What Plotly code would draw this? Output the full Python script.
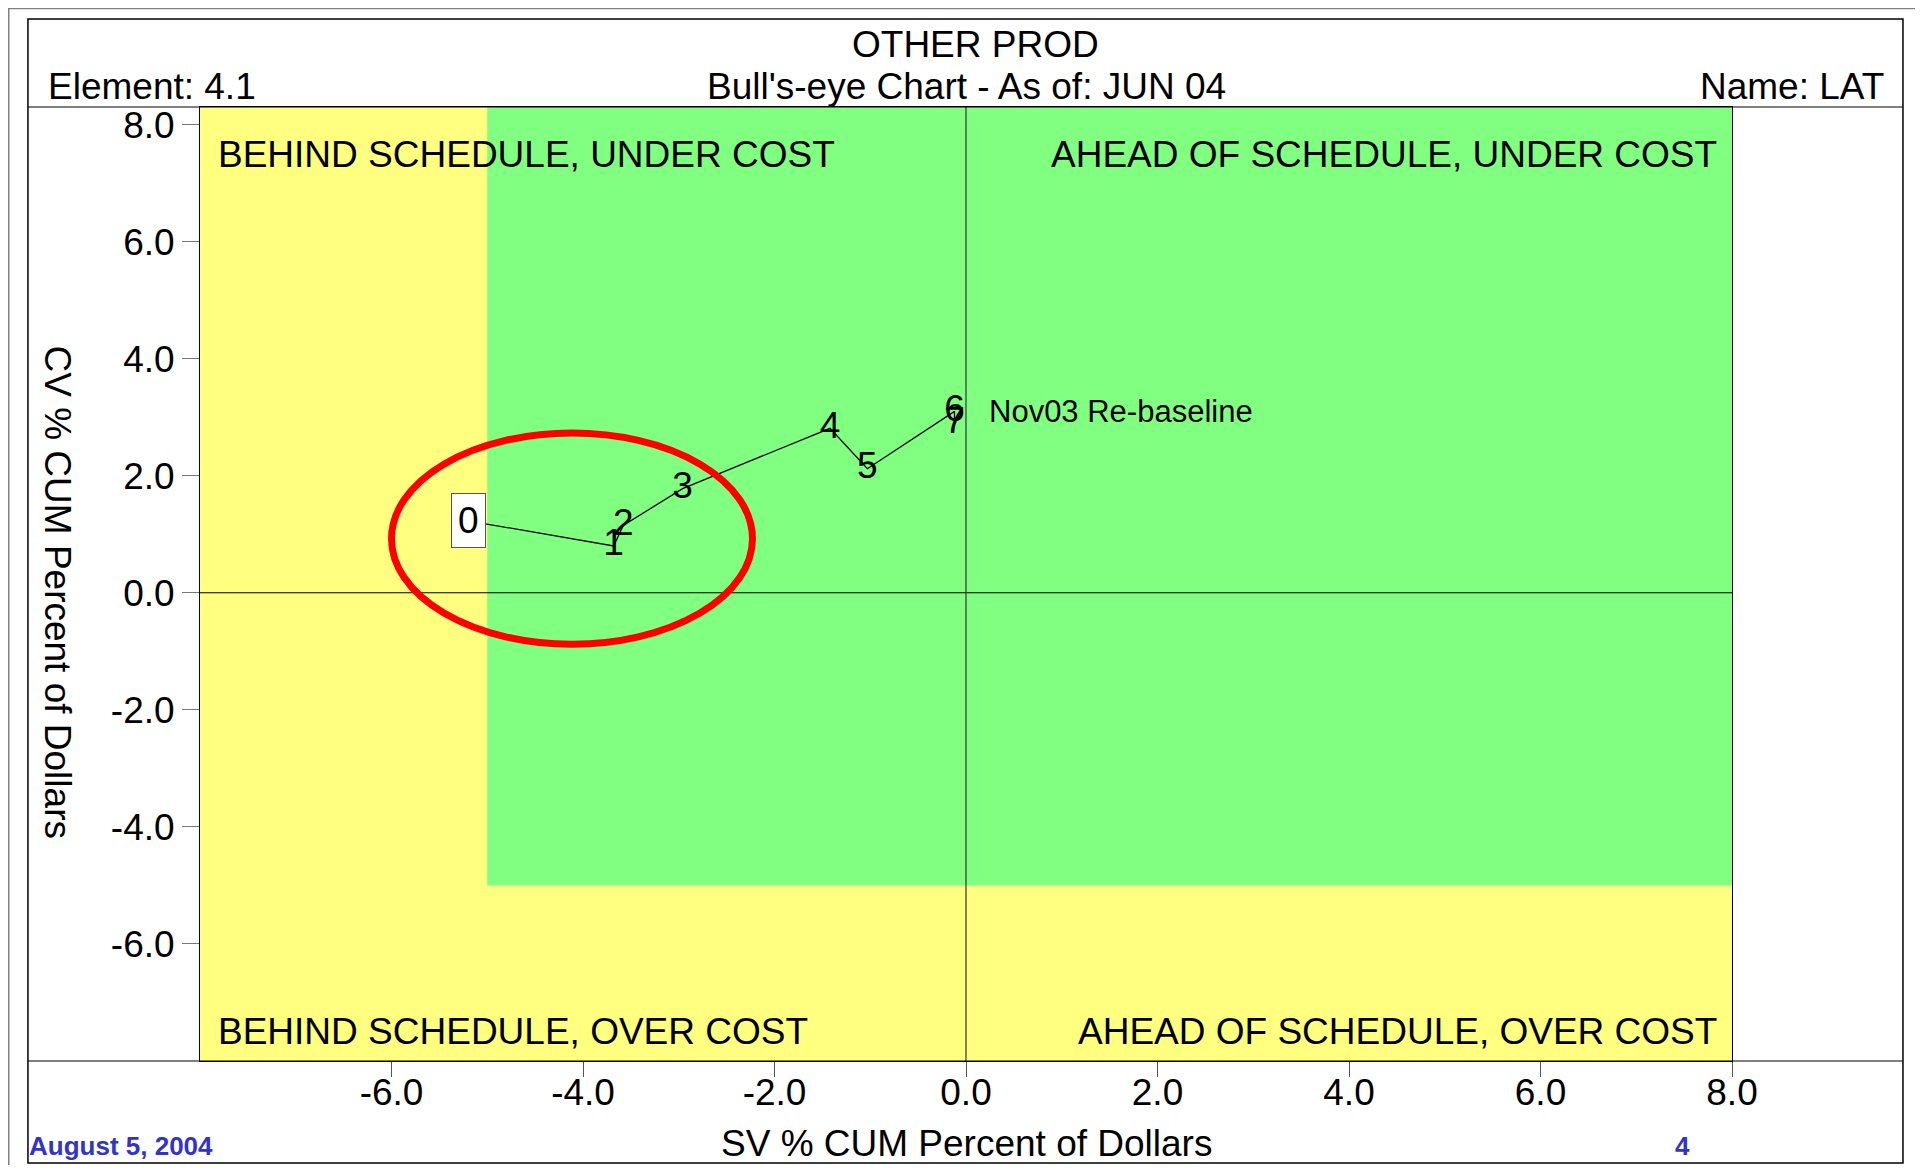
import plotly.graph_objects as go

# ---- data ----
point_labels = ["0", "1", "2", "3", "4", "5", "6", "7"]
sv_pct = [-5.20, -3.68, -3.58, -2.96, -1.42, -1.03, -0.12, -0.12]
cv_pct = [1.23, 0.80, 1.15, 1.78, 2.81, 2.12, 3.10, 2.88]
tick_vals = [-6.0, -4.0, -2.0, 0.0, 2.0, 4.0, 6.0, 8.0]
tick_text = ["-6.0", "-4.0", "-2.0", "0.0", "2.0", "4.0", "6.0", "8.0"]
quadrant_labels = ["BEHIND SCHEDULE, UNDER COST", "AHEAD OF SCHEDULE, UNDER COST",
                   "BEHIND SCHEDULE, OVER COST", "AHEAD OF SCHEDULE, OVER COST"]
rebaseline_note = "Nov03 Re-baseline"

FONT = "Liberation Sans, Arial, sans-serif"
YELLOW = "#FFFF80"
GREEN = "#80FF80"
BLUE = "#3333CC"
FS = 37

XR = [-8, 8]
YR = [-8, 8.3]

fig = go.Figure()

fig.add_trace(go.Scatter(
    x=sv_pct, y=cv_pct,
    mode="lines+text",
    text=[""] + point_labels[1:],
    textposition="middle center",
    textfont=dict(family=FONT, size=FS, color="black"),
    line=dict(color="black", width=1.3),
    hoverinfo="skip",
    showlegend=False,
))

shapes = [
    dict(type="rect", xref="x", yref="y", x0=XR[0], x1=XR[1], y0=YR[0], y1=YR[1],
         fillcolor=YELLOW, line=dict(width=0), layer="below"),
    dict(type="rect", xref="x", yref="y", x0=-5, x1=XR[1], y0=-5, y1=YR[1],
         fillcolor=GREEN, line=dict(width=0), layer="below"),
    dict(type="line", xref="x", yref="y", x0=XR[0], x1=XR[1], y0=0, y1=0,
         line=dict(color="black", width=1), layer="below"),
    dict(type="line", xref="x", yref="y", x0=0, x1=0, y0=YR[0], y1=YR[1],
         line=dict(color="#333333", width=1.2), layer="below"),
    # red ellipse
    dict(type="circle", xref="x", yref="y", x0=-6.0, x1=-2.23, y0=-0.88, y1=2.73,
         line=dict(color="#FF0000", width=7), layer="above"),
    # inner black frame
    dict(type="rect", xref="paper", yref="paper", x0=-0.1123, x1=1.1116, y0=-0.107, y1=1.0922,
         line=dict(color="black", width=1.5), fillcolor="rgba(0,0,0,0)", layer="above"),
    # header line and bottom line
    dict(type="line", xref="paper", yref="paper", x0=-0.1123, x1=1.1116, y0=1.0, y1=1.0,
         line=dict(color="black", width=1.2)),
    dict(type="line", xref="paper", yref="paper", x0=-0.1123, x1=1.1116, y0=0.0, y1=0.0,
         line=dict(color="black", width=1.2)),
    # outer gray page frame
    dict(type="line", xref="paper", yref="paper", x0=-0.1250, x1=-0.1250, y0=-0.12, y1=1.104,
         line=dict(color="#808080", width=2)),
    dict(type="line", xref="paper", yref="paper", x0=-0.1250, x1=1.12, y0=1.1035, y1=1.1035,
         line=dict(color="#808080", width=2)),
]

annotations = [
    # point 0 boxed label
    dict(x=sv_pct[0], y=cv_pct[0], xref="x", yref="y", text=point_labels[0], showarrow=False,
         font=dict(family=FONT, size=FS, color="black"), bgcolor="white",
         bordercolor="#555555", borderwidth=1, borderpad=6),
    dict(x=0.22, y=cv_pct[6], xref="x", yref="y", text=rebaseline_note, showarrow=False,
         xanchor="left", yanchor="middle", font=dict(family=FONT, size=31, color="black")),
    # quadrant labels
    dict(x=-7.83, y=7.49, xref="x", yref="y", text=quadrant_labels[0], showarrow=False,
         xanchor="left", yanchor="middle", font=dict(family=FONT, size=FS, color="black")),
    dict(x=7.86, y=7.49, xref="x", yref="y", text=quadrant_labels[1], showarrow=False,
         xanchor="right", yanchor="middle", font=dict(family=FONT, size=FS, color="black")),
    dict(x=-7.83, y=-7.50, xref="x", yref="y", text=quadrant_labels[2], showarrow=False,
         xanchor="left", yanchor="middle", font=dict(family=FONT, size=FS, color="black")),
    dict(x=7.86, y=-7.50, xref="x", yref="y", text=quadrant_labels[3], showarrow=False,
         xanchor="right", yanchor="middle", font=dict(family=FONT, size=FS, color="black")),
    # header texts
    dict(x=0.5065, y=1.066, xref="paper", yref="paper", text="OTHER PROD", showarrow=False,
         xanchor="center", yanchor="middle", font=dict(family=FONT, size=FS, color="black")),
    dict(x=-0.1002, y=1.022, xref="paper", yref="paper", text="Element: 4.1", showarrow=False,
         xanchor="left", yanchor="middle", font=dict(family=FONT, size=FS, color="black")),
    dict(x=0.5, y=1.022, xref="paper", yref="paper", text="Bull's-eye Chart - As of: JUN 04",
         showarrow=False, xanchor="center", yanchor="middle",
         font=dict(family=FONT, size=FS, color="black")),
    dict(x=1.1005, y=1.022, xref="paper", yref="paper", text="Name: LAT", showarrow=False,
         xanchor="right", yanchor="middle", font=dict(family=FONT, size=FS, color="black")),
    # axis titles
    dict(x=0.5, y=-0.086, xref="paper", yref="paper", text="SV % CUM Percent of Dollars",
         showarrow=False, xanchor="center", yanchor="middle",
         font=dict(family=FONT, size=FS, color="black")),
    dict(x=-0.093, y=0.4916, xref="paper", yref="paper", text="CV % CUM Percent of Dollars",
         showarrow=False, xanchor="center", yanchor="middle", textangle=90,
         font=dict(family=FONT, size=FS, color="black")),
    # footer
    dict(x=-0.1129, y=-0.1068, xref="paper", yref="paper", text="<b>August 5, 2004</b>",
         showarrow=False, xanchor="left", yanchor="bottom",
         font=dict(family=FONT, size=26, color=BLUE)),
    dict(x=0.968, y=-0.1068, xref="paper", yref="paper", text="<b>4</b>",
         showarrow=False, xanchor="center", yanchor="bottom",
         font=dict(family=FONT, size=26, color=BLUE)),
]

fig.update_layout(
    width=1907, height=1157,
    margin=dict(l=192, r=183, t=99, b=104, pad=0),
    paper_bgcolor="white", plot_bgcolor="white",
    shapes=shapes, annotations=annotations,
    showlegend=False,
    xaxis=dict(range=XR, tickmode="array", tickvals=tick_vals, ticktext=tick_text,
               showgrid=False, zeroline=False,
               ticks="outside", ticklen=15, tickcolor="#555555", tickwidth=1,
               ticklabelstandoff=-16,
               showline=True, linecolor="black", linewidth=1, mirror=True,
               tickfont=dict(family=FONT, size=FS, color="black")),
    yaxis=dict(range=YR, tickmode="array", tickvals=tick_vals, ticktext=tick_text,
               showgrid=False, zeroline=False,
               ticks="outside", ticklen=17, tickcolor="#777777", tickwidth=1,
               showline=True, linecolor="black", linewidth=1, mirror=True,
               tickfont=dict(family=FONT, size=FS, color="black")),
)

fig.write_html("out.html")
